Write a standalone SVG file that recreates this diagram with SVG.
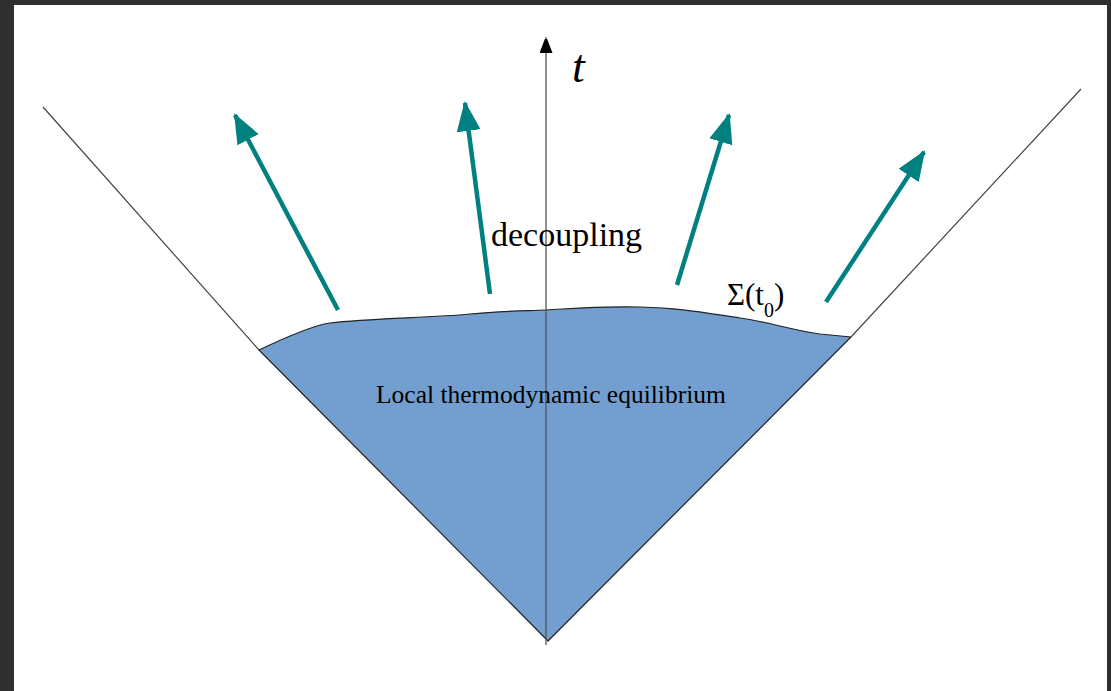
<svg xmlns="http://www.w3.org/2000/svg" width="1111" height="691" viewBox="0 0 1111 691">
<style>
.frame{fill:#2f2f2f}
.thin{stroke:#444;stroke-width:1.2;fill:none}
.flow{stroke:#008080;stroke-width:4.5;fill:none;marker-end:url(#teal)}
.serif{font-family:"Liberation Serif","Times New Roman",serif;fill:#000}
</style>
<defs>
<marker id="teal" markerUnits="userSpaceOnUse" markerWidth="32" markerHeight="26" refX="28" refY="12" orient="auto">
<path d="M0,0 L30,12 L0,24 Z" fill="#008080"/>
</marker>
<marker id="axis" markerUnits="userSpaceOnUse" markerWidth="14" markerHeight="20" refX="16" refY="6.5" orient="auto">
<path d="M0,0 L17,6.5 L0,13 Z" fill="#000"/>
</marker>
</defs>
<rect width="1111" height="691" class="frame"/>
<rect x="14" y="5" width="1093" height="686" fill="#fff"/>
<g id="cone">
<path d="M259,350 C280,340 310,326 330,323 C370,318 430,318 470,314 C500,311 520,311 546,310 C580,308 600,306 640,307 C680,308 700,312 740,318 C770,322 790,330 820,334 L851,337 L548,641 Z" fill="#729fcf" stroke="#222" stroke-width="1.2" stroke-linejoin="round"/>
<line x1="43" y1="107" x2="259" y2="350" class="thin"/>
<line x1="1081" y1="89" x2="851" y2="337" class="thin"/>
</g>
<g id="axis-t">
<line x1="546" y1="645" x2="546" y2="37" stroke="#555" stroke-width="1.3" marker-end="url(#axis)"/>
<text x="572" y="82" class="serif" font-size="46" font-style="italic">t</text>
</g>
<g id="connectors">
<line x1="338" y1="310" x2="235" y2="115" class="flow"/>
<line x1="490" y1="294" x2="465" y2="103" class="flow"/>
<line x1="677" y1="285" x2="729" y2="115" class="flow"/>
<line x1="826" y1="302" x2="924" y2="152" class="flow"/>
</g>
<g id="labels">
<text x="491" y="246" class="serif" font-size="34">decoupling</text>
<text x="727" y="305" class="serif" font-size="31">Σ(t<tspan dy="12" font-size="20">0</tspan><tspan dy="-12">)</tspan></text>
<text x="376" y="403" class="serif" font-size="25.5">Local thermodynamic equilibrium</text>
</g>
</svg>
